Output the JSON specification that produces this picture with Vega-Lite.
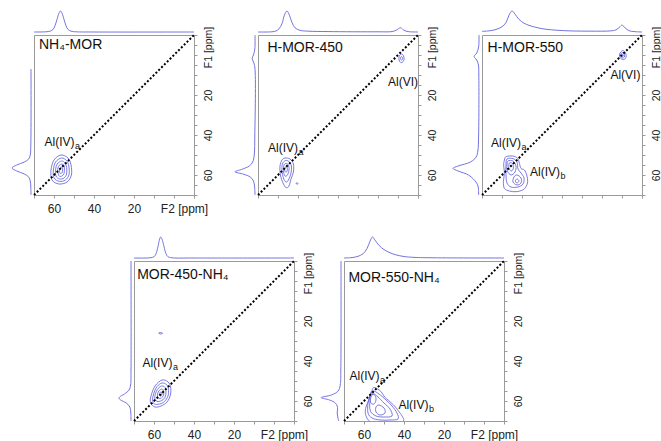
{
  "$schema": "https://vega.github.io/schema/vega-lite/v6.json",
  "padding": {"left": 9, "top": 8, "right": 0, "bottom": 4},
  "background": "white",
  "config": {
    "view": {"stroke": "#9a9a9a", "strokeWidth": 1},
    "axis": {"domainColor": "#9a9a9a", "tickColor": "#9a9a9a", "tickSize": 3, "labelFont": "Liberation Sans", "labelFontSize": 12, "labelColor": "#222222", "grid": false}
  },
  "datasets": {
    "dg": [{"f": -10}, {"f": 70}],
    "tt": [
      {"p": 1, "f2": 67.5, "f1": -5, "t": "NH₄-MOR"},
      {"p": 2, "f2": 65.3, "f1": -3.3, "t": "H-MOR-450"},
      {"p": 3, "f2": 67.2, "f1": -3.3, "t": "H-MOR-550"},
      {"p": 4, "f2": 68.4, "f1": -3, "t": "MOR-450-NH₄"},
      {"p": 5, "f2": 67.8, "f1": -1.5, "t": "MOR-550-NH₄"}
    ],
    "lb": [
      {"p": 1, "f2": 64.7, "f1": 43.3, "t": "Al(IV)", "s": "a"},
      {"p": 2, "f2": 65, "f1": 46.7, "t": "Al(IV)", "s": "a"},
      {"p": 2, "f2": 5, "f1": 13.3, "t": "Al(VI)", "s": ""},
      {"p": 3, "f2": 65.5, "f1": 44.2, "t": "Al(IV)", "s": "a"},
      {"p": 3, "f2": 46, "f1": 58.3, "t": "Al(IV)", "s": "b"},
      {"p": 3, "f2": 5.8, "f1": 10, "t": "Al(VI)", "s": ""},
      {"p": 4, "f2": 65.8, "f1": 41.2, "t": "Al(IV)", "s": "a"},
      {"p": 5, "f2": 67.2, "f1": 47.7, "t": "Al(IV)", "s": "a"},
      {"p": 5, "f2": 42.8, "f1": 61.8, "t": "Al(IV)", "s": "b"}
    ],
    "tp": [
      {"p":1,"f2":70,"v":0},{"p":1,"f2":64,"v":0.01},{"p":1,"f2":62,"v":0.04},{"p":1,"f2":60.5,"v":0.12},{"p":1,"f2":59.5,"v":0.3},{"p":1,"f2":58.5,"v":0.6},{"p":1,"f2":57.5,"v":0.9},{"p":1,"f2":56.8,"v":1},{"p":1,"f2":56,"v":0.9},{"p":1,"f2":55,"v":0.6},{"p":1,"f2":54,"v":0.3},{"p":1,"f2":53,"v":0.12},{"p":1,"f2":51.5,"v":0.04},{"p":1,"f2":49,"v":0.01},{"p":1,"f2":40,"v":0},{"p":1,"f2":-10,"v":0},
      {"p":2,"f2":70,"v":0},{"p":2,"f2":63,"v":0.01},{"p":2,"f2":61,"v":0.05},{"p":2,"f2":59.5,"v":0.15},{"p":2,"f2":58,"v":0.4},{"p":2,"f2":56.8,"v":0.8},{"p":2,"f2":55.5,"v":1},{"p":2,"f2":54.3,"v":0.8},{"p":2,"f2":53,"v":0.45},{"p":2,"f2":51.5,"v":0.2},{"p":2,"f2":49,"v":0.08},{"p":2,"f2":45,"v":0.04},{"p":2,"f2":35,"v":0.02},{"p":2,"f2":10,"v":0.01},{"p":2,"f2":3,"v":0.02},{"p":2,"f2":1,"v":0.08},{"p":2,"f2":-1.3,"v":0.2},{"p":2,"f2":-3,"v":0.08},{"p":2,"f2":-5,"v":0.02},{"p":2,"f2":-10,"v":0},
      {"p":3,"f2":70,"v":0.03},{"p":3,"f2":66,"v":0.06},{"p":3,"f2":63,"v":0.12},{"p":3,"f2":60,"v":0.25},{"p":3,"f2":58,"v":0.45},{"p":3,"f2":56.5,"v":0.8},{"p":3,"f2":55,"v":1},{"p":3,"f2":53.5,"v":0.85},{"p":3,"f2":51.5,"v":0.6},{"p":3,"f2":49,"v":0.42},{"p":3,"f2":46,"v":0.3},{"p":3,"f2":42,"v":0.2},{"p":3,"f2":38,"v":0.13},{"p":3,"f2":32,"v":0.08},{"p":3,"f2":25,"v":0.05},{"p":3,"f2":15,"v":0.04},{"p":3,"f2":6,"v":0.05},{"p":3,"f2":3,"v":0.1},{"p":3,"f2":1,"v":0.25},{"p":3,"f2":0,"v":0.33},{"p":3,"f2":-1.5,"v":0.2},{"p":3,"f2":-3.5,"v":0.06},{"p":3,"f2":-6,"v":0.02},{"p":3,"f2":-10,"v":0},
      {"p":4,"f2":70,"v":0},{"p":4,"f2":62,"v":0.01},{"p":4,"f2":60,"v":0.06},{"p":4,"f2":59,"v":0.2},{"p":4,"f2":58,"v":0.55},{"p":4,"f2":57.2,"v":0.9},{"p":4,"f2":56.7,"v":1},{"p":4,"f2":56,"v":0.9},{"p":4,"f2":55,"v":0.55},{"p":4,"f2":54,"v":0.2},{"p":4,"f2":53,"v":0.06},{"p":4,"f2":51,"v":0.01},{"p":4,"f2":40,"v":0},{"p":4,"f2":-10,"v":0},
      {"p":5,"f2":70,"v":0},{"p":5,"f2":66,"v":0.02},{"p":5,"f2":63,"v":0.08},{"p":5,"f2":60.5,"v":0.2},{"p":5,"f2":58.5,"v":0.45},{"p":5,"f2":57,"v":0.8},{"p":5,"f2":55.8,"v":1},{"p":5,"f2":54.5,"v":0.85},{"p":5,"f2":52.5,"v":0.6},{"p":5,"f2":50,"v":0.4},{"p":5,"f2":47,"v":0.25},{"p":5,"f2":44,"v":0.15},{"p":5,"f2":40,"v":0.07},{"p":5,"f2":35,"v":0.03},{"p":5,"f2":25,"v":0.01},{"p":5,"f2":-10,"v":0}
    ],
    "lp": [
      {"p":1,"f1":7,"v":0},{"p":1,"f1":45,"v":0.01},{"p":1,"f1":50,"v":0.04},{"p":1,"f1":52,"v":0.12},{"p":1,"f1":53.5,"v":0.35},{"p":1,"f1":55,"v":0.75},{"p":1,"f1":56.5,"v":1},{"p":1,"f1":58,"v":0.75},{"p":1,"f1":59.5,"v":0.35},{"p":1,"f1":61,"v":0.12},{"p":1,"f1":63,"v":0.04},{"p":1,"f1":66,"v":0.01},{"p":1,"f1":70,"v":0},
      {"p":2,"f1":-10,"v":0},{"p":2,"f1":-3,"v":0.01},{"p":2,"f1":0,"v":0.08},{"p":2,"f1":1.7,"v":0.15},{"p":2,"f1":3.5,"v":0.08},{"p":2,"f1":6,"v":0.01},{"p":2,"f1":40,"v":0.01},{"p":2,"f1":50,"v":0.04},{"p":2,"f1":53.5,"v":0.12},{"p":2,"f1":55.5,"v":0.3},{"p":2,"f1":57.2,"v":0.7},{"p":2,"f1":58.4,"v":1.05},{"p":2,"f1":59.6,"v":0.6},{"p":2,"f1":61,"v":0.25},{"p":2,"f1":63,"v":0.08},{"p":2,"f1":66,"v":0.02},{"p":2,"f1":70,"v":0},
      {"p":3,"f1":-10,"v":0},{"p":3,"f1":-4,"v":0.02},{"p":3,"f1":-1,"v":0.12},{"p":3,"f1":0.8,"v":0.26},{"p":3,"f1":2.5,"v":0.12},{"p":3,"f1":5,"v":0.03},{"p":3,"f1":10,"v":0.01},{"p":3,"f1":40,"v":0.02},{"p":3,"f1":48,"v":0.06},{"p":3,"f1":51,"v":0.15},{"p":3,"f1":53.5,"v":0.45},{"p":3,"f1":55.5,"v":1.1},{"p":3,"f1":56.7,"v":1.37},{"p":3,"f1":58,"v":1.1},{"p":3,"f1":60,"v":0.55},{"p":3,"f1":62,"v":0.3},{"p":3,"f1":64,"v":0.12},{"p":3,"f1":66,"v":0.04},{"p":3,"f1":70,"v":0.02},
      {"p":4,"f1":-10,"v":0},{"p":4,"f1":45,"v":0},{"p":4,"f1":52,"v":0.02},{"p":4,"f1":54.5,"v":0.1},{"p":4,"f1":56.5,"v":0.35},{"p":4,"f1":58,"v":0.6},{"p":4,"f1":58.7,"v":0.63},{"p":4,"f1":59.5,"v":0.55},{"p":4,"f1":61,"v":0.25},{"p":4,"f1":63,"v":0.06},{"p":4,"f1":66,"v":0.01},{"p":4,"f1":70,"v":0},
      {"p":5,"f1":-10,"v":0},{"p":5,"f1":45,"v":0.01},{"p":5,"f1":52,"v":0.04},{"p":5,"f1":55,"v":0.15},{"p":5,"f1":57,"v":0.5},{"p":5,"f1":58.3,"v":1.04},{"p":5,"f1":59.5,"v":0.6},{"p":5,"f1":61,"v":0.3},{"p":5,"f1":62.5,"v":0.2},{"p":5,"f1":64,"v":0.18},{"p":5,"f1":66,"v":0.2},{"p":5,"f1":68,"v":0.17},{"p":5,"f1":70,"v":0.12}
    ],
    "ct": [
      {"p":1,"r":"1a","i":0,"f2":56.5,"f1":50},{"p":1,"r":"1a","i":1,"f2":53,"f1":51.5},{"p":1,"r":"1a","i":2,"f2":51.5,"f1":55},{"p":1,"r":"1a","i":3,"f2":51.3,"f1":60},{"p":1,"r":"1a","i":4,"f2":53.5,"f1":63.5},{"p":1,"r":"1a","i":5,"f2":57.5,"f1":64.5},{"p":1,"r":"1a","i":6,"f2":61,"f1":62.5},{"p":1,"r":"1a","i":7,"f2":61.5,"f1":57.5},{"p":1,"r":"1a","i":8,"f2":60,"f1":52.5},
      {"p":1,"r":"1b","i":0,"f2":56.3,"f1":51.5},{"p":1,"r":"1b","i":1,"f2":53.8,"f1":52.7},{"p":1,"r":"1b","i":2,"f2":52.6,"f1":55.5},{"p":1,"r":"1b","i":3,"f2":52.5,"f1":59.8},{"p":1,"r":"1b","i":4,"f2":54.3,"f1":62.5},{"p":1,"r":"1b","i":5,"f2":57.3,"f1":63.2},{"p":1,"r":"1b","i":6,"f2":60,"f1":61.5},{"p":1,"r":"1b","i":7,"f2":60.3,"f1":57.5},{"p":1,"r":"1b","i":8,"f2":59.2,"f1":53.5},
      {"p":1,"r":"1c","i":0,"f2":56.2,"f1":53},{"p":1,"r":"1c","i":1,"f2":54.5,"f1":54},{"p":1,"r":"1c","i":2,"f2":53.7,"f1":56.2},{"p":1,"r":"1c","i":3,"f2":53.7,"f1":59.5},{"p":1,"r":"1c","i":4,"f2":55,"f1":61.5},{"p":1,"r":"1c","i":5,"f2":57.2,"f1":62},{"p":1,"r":"1c","i":6,"f2":59,"f1":60.5},{"p":1,"r":"1c","i":7,"f2":59.2,"f1":57.3},{"p":1,"r":"1c","i":8,"f2":58.4,"f1":54.5},
      {"p":1,"r":"1d","i":0,"f2":56,"f1":54.5},{"p":1,"r":"1d","i":1,"f2":55,"f1":55.3},{"p":1,"r":"1d","i":2,"f2":54.8,"f1":57},{"p":1,"r":"1d","i":3,"f2":55,"f1":59.3},{"p":1,"r":"1d","i":4,"f2":56,"f1":60.5},{"p":1,"r":"1d","i":5,"f2":57.3,"f1":60.6},{"p":1,"r":"1d","i":6,"f2":58,"f1":59},{"p":1,"r":"1d","i":7,"f2":58.1,"f1":56.8},{"p":1,"r":"1d","i":8,"f2":57.4,"f1":55.2},
      {"p":1,"r":"1e","i":0,"f2":56.2,"f1":56},{"p":1,"r":"1e","i":1,"f2":55.7,"f1":57.2},{"p":1,"r":"1e","i":2,"f2":56,"f1":58.8},{"p":1,"r":"1e","i":3,"f2":56.8,"f1":59.3},{"p":1,"r":"1e","i":4,"f2":57.3,"f1":58},{"p":1,"r":"1e","i":5,"f2":57,"f1":56.5},
      {"p":2,"r":"2a","i":0,"f2":56.5,"f1":51.5},{"p":2,"r":"2a","i":1,"f2":54,"f1":52},{"p":2,"r":"2a","i":2,"f2":52.3,"f1":54.5},{"p":2,"r":"2a","i":3,"f2":52.3,"f1":58.5},{"p":2,"r":"2a","i":4,"f2":53.5,"f1":62},{"p":2,"r":"2a","i":5,"f2":54.5,"f1":65.5},{"p":2,"r":"2a","i":6,"f2":56,"f1":66.3},{"p":2,"r":"2a","i":7,"f2":57.5,"f1":64},{"p":2,"r":"2a","i":8,"f2":58.8,"f1":60},{"p":2,"r":"2a","i":9,"f2":59,"f1":55.5},{"p":2,"r":"2a","i":10,"f2":58,"f1":52.5},
      {"p":2,"r":"2b","i":0,"f2":56.3,"f1":52.8},{"p":2,"r":"2b","i":1,"f2":54.5,"f1":53.3},{"p":2,"r":"2b","i":2,"f2":53.3,"f1":55.5},{"p":2,"r":"2b","i":3,"f2":53.5,"f1":59},{"p":2,"r":"2b","i":4,"f2":54.8,"f1":62.5},{"p":2,"r":"2b","i":5,"f2":56,"f1":63.5},{"p":2,"r":"2b","i":6,"f2":57.3,"f1":61.5},{"p":2,"r":"2b","i":7,"f2":58,"f1":58},{"p":2,"r":"2b","i":8,"f2":57.8,"f1":54.5},
      {"p":2,"r":"2c","i":0,"f2":56,"f1":54.2},{"p":2,"r":"2c","i":1,"f2":54.8,"f1":55},{"p":2,"r":"2c","i":2,"f2":54.5,"f1":57.5},{"p":2,"r":"2c","i":3,"f2":55.3,"f1":60},{"p":2,"r":"2c","i":4,"f2":56.5,"f1":60.5},{"p":2,"r":"2c","i":5,"f2":57.3,"f1":58},{"p":2,"r":"2c","i":6,"f2":57,"f1":55},
      {"p":2,"r":"2d","i":0,"f2":55.8,"f1":55.8},{"p":2,"r":"2d","i":1,"f2":55.3,"f1":57},{"p":2,"r":"2d","i":2,"f2":55.8,"f1":58.6},{"p":2,"r":"2d","i":3,"f2":56.6,"f1":58},{"p":2,"r":"2d","i":4,"f2":56.5,"f1":56.3},
      {"p":2,"r":"2e","i":0,"f2":50.6,"f1":63.8},{"p":2,"r":"2e","i":1,"f2":50,"f1":64.2},{"p":2,"r":"2e","i":2,"f2":50.4,"f1":64.7},{"p":2,"r":"2e","i":3,"f2":50.9,"f1":64.3},
      {"p":2,"r":"2f","i":0,"f2":-1.7,"f1":-0.5},{"p":2,"r":"2f","i":1,"f2":-2.8,"f1":0.5},{"p":2,"r":"2f","i":2,"f2":-3,"f1":2.5},{"p":2,"r":"2f","i":3,"f2":-1.8,"f1":3.8},{"p":2,"r":"2f","i":4,"f2":-0.7,"f1":3},{"p":2,"r":"2f","i":5,"f2":-0.5,"f1":0.8},
      {"p":2,"r":"2g","i":0,"f2":-1.8,"f1":0.8},{"p":2,"r":"2g","i":1,"f2":-2.3,"f1":1.6},{"p":2,"r":"2g","i":2,"f2":-1.9,"f1":2.6},{"p":2,"r":"2g","i":3,"f2":-1.3,"f1":2},{"p":2,"r":"2g","i":4,"f2":-1.3,"f1":1.2},
      {"p":3,"r":"3a","i":0,"f2":58,"f1":50.85},{"p":3,"r":"3a","i":1,"f2":54.65,"f1":50.5},{"p":3,"r":"3a","i":2,"f2":52.15,"f1":51.7},{"p":3,"r":"3a","i":3,"f2":51.3,"f1":54.2},{"p":3,"r":"3a","i":4,"f2":50.5,"f1":56.7},{"p":3,"r":"3a","i":5,"f2":48.8,"f1":57.5},{"p":3,"r":"3a","i":6,"f2":47.65,"f1":60},{"p":3,"r":"3a","i":7,"f2":47.15,"f1":63.35},{"p":3,"r":"3a","i":8,"f2":48,"f1":65.85},{"p":3,"r":"3a","i":9,"f2":49.65,"f1":67.5},{"p":3,"r":"3a","i":10,"f2":53,"f1":68.35},{"p":3,"r":"3a","i":11,"f2":56.3,"f1":68},{"p":3,"r":"3a","i":12,"f2":58.8,"f1":66.7},{"p":3,"r":"3a","i":13,"f2":59.3,"f1":63.35},{"p":3,"r":"3a","i":14,"f2":58.8,"f1":59.2},{"p":3,"r":"3a","i":15,"f2":59.15,"f1":55},{"p":3,"r":"3a","i":16,"f2":58.8,"f1":52.5},
      {"p":3,"r":"3b","i":0,"f2":57.5,"f1":52},{"p":3,"r":"3b","i":1,"f2":54.5,"f1":51.8},{"p":3,"r":"3b","i":2,"f2":52.5,"f1":53.5},{"p":3,"r":"3b","i":3,"f2":52,"f1":57},{"p":3,"r":"3b","i":4,"f2":50.5,"f1":59},{"p":3,"r":"3b","i":5,"f2":49,"f1":61.5},{"p":3,"r":"3b","i":6,"f2":49.5,"f1":64.5},{"p":3,"r":"3b","i":7,"f2":52,"f1":66},{"p":3,"r":"3b","i":8,"f2":55.5,"f1":66},{"p":3,"r":"3b","i":9,"f2":57.5,"f1":64},{"p":3,"r":"3b","i":10,"f2":58,"f1":60},{"p":3,"r":"3b","i":11,"f2":58,"f1":55},
      {"p":3,"r":"3c","i":0,"f2":57,"f1":53},{"p":3,"r":"3c","i":1,"f2":54.5,"f1":53},{"p":3,"r":"3c","i":2,"f2":53,"f1":55.5},{"p":3,"r":"3c","i":3,"f2":53.5,"f1":58.5},{"p":3,"r":"3c","i":4,"f2":55.5,"f1":60},{"p":3,"r":"3c","i":5,"f2":57.3,"f1":58},{"p":3,"r":"3c","i":6,"f2":57.5,"f1":55},
      {"p":3,"r":"3d","i":0,"f2":56.3,"f1":54},{"p":3,"r":"3d","i":1,"f2":54.8,"f1":54.2},{"p":3,"r":"3d","i":2,"f2":54.3,"f1":56.5},{"p":3,"r":"3d","i":3,"f2":55.3,"f1":58},{"p":3,"r":"3d","i":4,"f2":56.6,"f1":56.5},
      {"p":3,"r":"3e","i":0,"f2":52.5,"f1":60},{"p":3,"r":"3e","i":1,"f2":50.5,"f1":61.5},{"p":3,"r":"3e","i":2,"f2":50.5,"f1":64},{"p":3,"r":"3e","i":3,"f2":52.5,"f1":65},{"p":3,"r":"3e","i":4,"f2":54.5,"f1":63.5},{"p":3,"r":"3e","i":5,"f2":54,"f1":61},
      {"p":3,"r":"3f","i":0,"f2":52.5,"f1":62},{"p":3,"r":"3f","i":1,"f2":51.5,"f1":63},{"p":3,"r":"3f","i":2,"f2":52.5,"f1":64},{"p":3,"r":"3f","i":3,"f2":53.3,"f1":63},
      {"p":3,"r":"3g","i":0,"f2":-0.3,"f1":-2.2},{"p":3,"r":"3g","i":1,"f2":-1.8,"f1":-1},{"p":3,"r":"3g","i":2,"f2":-2,"f1":1.2},{"p":3,"r":"3g","i":3,"f2":-0.8,"f1":2.3},{"p":3,"r":"3g","i":4,"f2":0.8,"f1":1.5},{"p":3,"r":"3g","i":5,"f2":1.2,"f1":-0.5},
      {"p":3,"r":"3h","i":0,"f2":-0.4,"f1":-1.2},{"p":3,"r":"3h","i":1,"f2":-1.2,"f1":-0.3},{"p":3,"r":"3h","i":2,"f2":-1.2,"f1":1},{"p":3,"r":"3h","i":3,"f2":-0.3,"f1":1.5},{"p":3,"r":"3h","i":4,"f2":0.5,"f1":0.8},{"p":3,"r":"3h","i":5,"f2":0.6,"f1":-0.4},
      {"p":3,"r":"3i","i":0,"f2":-0.4,"f1":-0.3},{"p":3,"r":"3i","i":1,"f2":-0.7,"f1":0.3},{"p":3,"r":"3i","i":2,"f2":-0.3,"f1":0.8},{"p":3,"r":"3i","i":3,"f2":0.1,"f1":0.3},
      {"p":4,"r":"4a","i":0,"f2":56,"f1":49.5},{"p":4,"r":"4a","i":1,"f2":53,"f1":50.5},{"p":4,"r":"4a","i":2,"f2":51.7,"f1":53},{"p":4,"r":"4a","i":3,"f2":51.8,"f1":57},{"p":4,"r":"4a","i":4,"f2":53.5,"f1":60.5},{"p":4,"r":"4a","i":5,"f2":56.5,"f1":62.5},{"p":4,"r":"4a","i":6,"f2":59.5,"f1":63},{"p":4,"r":"4a","i":7,"f2":61.7,"f1":61},{"p":4,"r":"4a","i":8,"f2":61.5,"f1":57.5},{"p":4,"r":"4a","i":9,"f2":59.5,"f1":52.5},
      {"p":4,"r":"4b","i":0,"f2":56,"f1":51},{"p":4,"r":"4b","i":1,"f2":53.7,"f1":51.8},{"p":4,"r":"4b","i":2,"f2":52.8,"f1":54},{"p":4,"r":"4b","i":3,"f2":53,"f1":57.5},{"p":4,"r":"4b","i":4,"f2":54.8,"f1":60.3},{"p":4,"r":"4b","i":5,"f2":57.2,"f1":61.5},{"p":4,"r":"4b","i":6,"f2":59.8,"f1":61.5},{"p":4,"r":"4b","i":7,"f2":60.7,"f1":59.5},{"p":4,"r":"4b","i":8,"f2":60.2,"f1":56.5},{"p":4,"r":"4b","i":9,"f2":58.5,"f1":52.8},
      {"p":4,"r":"4c","i":0,"f2":56,"f1":52.5},{"p":4,"r":"4c","i":1,"f2":54.5,"f1":53.2},{"p":4,"r":"4c","i":2,"f2":54,"f1":55.5},{"p":4,"r":"4c","i":3,"f2":54.5,"f1":58.2},{"p":4,"r":"4c","i":4,"f2":56.2,"f1":59.8},{"p":4,"r":"4c","i":5,"f2":58.5,"f1":60.2},{"p":4,"r":"4c","i":6,"f2":59.6,"f1":58.5},{"p":4,"r":"4c","i":7,"f2":59,"f1":55.5},{"p":4,"r":"4c","i":8,"f2":57.5,"f1":53.3},
      {"p":4,"r":"4d","i":0,"f2":56,"f1":54},{"p":4,"r":"4d","i":1,"f2":55.2,"f1":55},{"p":4,"r":"4d","i":2,"f2":55.2,"f1":57},{"p":4,"r":"4d","i":3,"f2":56.3,"f1":58.5},{"p":4,"r":"4d","i":4,"f2":57.8,"f1":58.6},{"p":4,"r":"4d","i":5,"f2":58.3,"f1":57},{"p":4,"r":"4d","i":6,"f2":57.6,"f1":55},
      {"p":4,"r":"4e","i":0,"f2":56.4,"f1":55.5},{"p":4,"r":"4e","i":1,"f2":56,"f1":56.5},{"p":4,"r":"4e","i":2,"f2":56.6,"f1":57.5},{"p":4,"r":"4e","i":3,"f2":57.3,"f1":57},{"p":4,"r":"4e","i":4,"f2":57,"f1":55.8},
      {"p":4,"r":"4f","i":0,"f2":57.7,"f1":26},{"p":4,"r":"4f","i":1,"f2":56.7,"f1":25.8},{"p":4,"r":"4f","i":2,"f2":55.7,"f1":26.1},{"p":4,"r":"4f","i":3,"f2":56.7,"f1":26.5},
      {"p":5,"r":"5a","i":0,"f2":55.2,"f1":53.3},{"p":5,"r":"5a","i":1,"f2":53.5,"f1":53.8},{"p":5,"r":"5a","i":2,"f2":51.3,"f1":55.5},{"p":5,"r":"5a","i":3,"f2":49.7,"f1":58},{"p":5,"r":"5a","i":4,"f2":47.7,"f1":59.7},{"p":5,"r":"5a","i":5,"f2":46,"f1":61.3},{"p":5,"r":"5a","i":6,"f2":44.3,"f1":63},{"p":5,"r":"5a","i":7,"f2":41.8,"f1":66.3},{"p":5,"r":"5a","i":8,"f2":40.7,"f1":68},{"p":5,"r":"5a","i":9,"f2":40.2,"f1":69.7},{"p":5,"r":"5a","i":10,"f2":42.7,"f1":71},{"p":5,"r":"5a","i":11,"f2":49.3,"f1":70.5},{"p":5,"r":"5a","i":12,"f2":54.3,"f1":71.3},{"p":5,"r":"5a","i":13,"f2":57.7,"f1":69.7},{"p":5,"r":"5a","i":14,"f2":59.3,"f1":66.3},{"p":5,"r":"5a","i":15,"f2":59,"f1":63},{"p":5,"r":"5a","i":16,"f2":57.7,"f1":59.7},{"p":5,"r":"5a","i":17,"f2":56.8,"f1":56.3},{"p":5,"r":"5a","i":18,"f2":56,"f1":54.7},
      {"p":5,"r":"5b","i":0,"f2":55.5,"f1":55},{"p":5,"r":"5b","i":1,"f2":52.5,"f1":56.5},{"p":5,"r":"5b","i":2,"f2":49,"f1":59.5},{"p":5,"r":"5b","i":3,"f2":46,"f1":62.5},{"p":5,"r":"5b","i":4,"f2":43.5,"f1":66},{"p":5,"r":"5b","i":5,"f2":43,"f1":69},{"p":5,"r":"5b","i":6,"f2":47,"f1":69.5},{"p":5,"r":"5b","i":7,"f2":52,"f1":69.5},{"p":5,"r":"5b","i":8,"f2":56,"f1":68.5},{"p":5,"r":"5b","i":9,"f2":58,"f1":66},{"p":5,"r":"5b","i":10,"f2":58,"f1":61},{"p":5,"r":"5b","i":11,"f2":57,"f1":57.5},
      {"p":5,"r":"5c","i":0,"f2":55.5,"f1":56.5},{"p":5,"r":"5c","i":1,"f2":53,"f1":58},{"p":5,"r":"5c","i":2,"f2":50,"f1":61},{"p":5,"r":"5c","i":3,"f2":47,"f1":64},{"p":5,"r":"5c","i":4,"f2":46,"f1":67.5},{"p":5,"r":"5c","i":5,"f2":50,"f1":68},{"p":5,"r":"5c","i":6,"f2":54,"f1":67.5},{"p":5,"r":"5c","i":7,"f2":56.8,"f1":65},{"p":5,"r":"5c","i":8,"f2":57,"f1":60},
      {"p":5,"r":"5d","i":0,"f2":56.3,"f1":56.5},{"p":5,"r":"5d","i":1,"f2":54.5,"f1":57.2},{"p":5,"r":"5d","i":2,"f2":54,"f1":59.5},{"p":5,"r":"5d","i":3,"f2":55,"f1":61.5},{"p":5,"r":"5d","i":4,"f2":56.5,"f1":61},{"p":5,"r":"5d","i":5,"f2":57,"f1":58.5},
      {"p":5,"r":"5e","i":0,"f2":52.5,"f1":62},{"p":5,"r":"5e","i":1,"f2":50,"f1":63.5},{"p":5,"r":"5e","i":2,"f2":49.5,"f1":66},{"p":5,"r":"5e","i":3,"f2":52,"f1":67},{"p":5,"r":"5e","i":4,"f2":54,"f1":65.5},{"p":5,"r":"5e","i":5,"f2":54,"f1":63}
    ]
  },
  "spacing": 19,
  "vconcat": [
    {
      "bounds": "flush",
      "spacing": 64,
      "hconcat": [
        {
          "width": 160, "height": 160,
          "layer": [
            {"data": {"name": "ct"}, "transform": [{"filter": "datum.p==1"}],
             "mark": {"type": "line", "interpolate": "cardinal-closed", "strokeWidth": 0.8, "color": "#5a5ad6", "clip": true},
             "encoding": {
               "x": {"field": "f2", "type": "quantitative", "scale": {"domain": [-10, 70], "reverse": true, "nice": false, "zero": false},
                     "axis": {"orient": "bottom", "title": null, "values": [-10, 0, 10, 20, 30, 40, 50, 60, 70], "labelExpr": "datum.value==0 ? 'F2 [ppm]' : (datum.value==20||datum.value==40||datum.value==60 ? datum.label : '')", "labelOverlap": false, "labelFlush": false, "labelPadding": 5, "labelOffset": {"condition": {"test": "datum.value==0", "value": 10}, "value": 0}}},
               "y": {"field": "f1", "type": "quantitative", "scale": {"domain": [-10, 70], "reverse": true, "nice": false, "zero": false},
                     "axis": {"orient": "right", "title": null, "values": [-10, -5, 0, 5, 10, 15, 20, 25, 30, 35, 40, 45, 50, 55, 60, 65, 70], "labelExpr": "datum.value==0 ? 'F1 [ppm]' : (datum.value==20||datum.value==40||datum.value==60 ? datum.label : '')", "labelAngle": 270, "labelAlign": "center", "labelBaseline": "top", "labelFontSize": 10.5, "labelOverlap": false, "labelFlush": false, "labelPadding": 6, "labelOffset": {"condition": {"test": "datum.value==0", "value": -8}, "value": 0}}},
               "detail": {"field": "r"},
               "order": {"field": "i", "type": "quantitative"}}},
            {"data": {"name": "dg"}, "mark": {"type": "line", "strokeDash": [2, 2], "strokeWidth": 2, "color": "#000000"},
             "encoding": {"x": {"field": "f", "type": "quantitative", "scale": {"domain": [-10, 70], "reverse": true, "nice": false, "zero": false}, "axis": null},
                          "y": {"field": "f", "type": "quantitative", "scale": {"domain": [-10, 70], "reverse": true, "nice": false, "zero": false}, "axis": null}}},
            {"data": {"name": "tp"}, "transform": [{"filter": "datum.p==1"}],
             "mark": {"type": "line", "interpolate": "catmull-rom", "strokeWidth": 1, "color": "#7474e0"},
             "encoding": {"x": {"field": "f2", "type": "quantitative", "scale": {"domain": [-10, 70], "reverse": true, "nice": false, "zero": false}, "axis": null},
                          "y": {"field": "v", "type": "quantitative", "scale": {"domain": [-7.762, -0.143], "nice": false, "zero": false}, "axis": null},
                          "order": {"field": "f2", "type": "quantitative", "sort": "descending"}}},
            {"data": {"name": "lp"}, "transform": [{"filter": "datum.p==1"}],
             "mark": {"type": "line", "interpolate": "catmull-rom", "strokeWidth": 1, "color": "#7474e0"},
             "encoding": {"y": {"field": "f1", "type": "quantitative", "scale": {"domain": [-10, 70], "reverse": true, "nice": false, "zero": false}, "axis": null},
                          "x": {"field": "v", "type": "quantitative", "scale": {"domain": [-8.579, -0.158], "reverse": true, "nice": false, "zero": false}, "axis": null},
                          "order": {"field": "f1", "type": "quantitative"}}},
            {"data": {"name": "tt"}, "transform": [{"filter": "datum.p==1"}],
             "mark": {"type": "text", "align": "left", "baseline": "middle", "font": "Liberation Sans", "fontSize": 14, "color": "#111111"},
             "encoding": {"x": {"field": "f2", "type": "quantitative", "scale": {"domain": [-10, 70], "reverse": true, "nice": false, "zero": false}, "axis": null},
                          "y": {"field": "f1", "type": "quantitative", "scale": {"domain": [-10, 70], "reverse": true, "nice": false, "zero": false}, "axis": null},
                          "text": {"field": "t"}}},
            {"data": {"name": "lb"}, "transform": [{"filter": "datum.p==1"}],
             "mark": {"type": "text", "align": "left", "baseline": "middle", "font": "Liberation Sans", "fontSize": 12, "color": "#111111"},
             "encoding": {"x": {"field": "f2", "type": "quantitative", "scale": {"domain": [-10, 70], "reverse": true, "nice": false, "zero": false}, "axis": null},
                          "y": {"field": "f1", "type": "quantitative", "scale": {"domain": [-10, 70], "reverse": true, "nice": false, "zero": false}, "axis": null},
                          "text": {"field": "t"}}},
            {"data": {"name": "lb"}, "transform": [{"filter": "datum.p==1"}],
             "mark": {"type": "text", "align": "left", "baseline": "middle", "font": "Liberation Sans", "fontSize": 9, "dx": 30.5, "dy": 4, "color": "#111111"},
             "encoding": {"x": {"field": "f2", "type": "quantitative", "scale": {"domain": [-10, 70], "reverse": true, "nice": false, "zero": false}, "axis": null},
                          "y": {"field": "f1", "type": "quantitative", "scale": {"domain": [-10, 70], "reverse": true, "nice": false, "zero": false}, "axis": null},
                          "text": {"field": "s"}}}
          ],
          "resolve": {"scale": {"x": "independent", "y": "independent"}}
        },
        {
          "width": 160, "height": 160,
          "layer": [
            {"data": {"name": "ct"}, "transform": [{"filter": "datum.p==2"}],
             "mark": {"type": "line", "interpolate": "cardinal-closed", "strokeWidth": 0.8, "color": "#5a5ad6", "clip": true},
             "encoding": {
               "x": {"field": "f2", "type": "quantitative", "scale": {"domain": [-10, 70], "reverse": true, "nice": false, "zero": false},
                     "axis": {"orient": "bottom", "title": null, "values": [-10, 0, 10, 20, 30, 40, 50, 60, 70], "labels": false}},
               "y": {"field": "f1", "type": "quantitative", "scale": {"domain": [-10, 70], "reverse": true, "nice": false, "zero": false},
                     "axis": {"orient": "right", "title": null, "values": [-10, -5, 0, 5, 10, 15, 20, 25, 30, 35, 40, 45, 50, 55, 60, 65, 70], "labelExpr": "datum.value==0 ? 'F1 [ppm]' : (datum.value==20||datum.value==40||datum.value==60 ? datum.label : '')", "labelAngle": 270, "labelAlign": "center", "labelBaseline": "top", "labelFontSize": 10.5, "labelOverlap": false, "labelFlush": false, "labelPadding": 6, "labelOffset": {"condition": {"test": "datum.value==0", "value": -8}, "value": 0}}},
               "detail": {"field": "r"},
               "order": {"field": "i", "type": "quantitative"}}},
            {"data": {"name": "dg"}, "mark": {"type": "line", "strokeDash": [2, 2], "strokeWidth": 2, "color": "#000000"},
             "encoding": {"x": {"field": "f", "type": "quantitative", "scale": {"domain": [-10, 70], "reverse": true, "nice": false, "zero": false}, "axis": null},
                          "y": {"field": "f", "type": "quantitative", "scale": {"domain": [-10, 70], "reverse": true, "nice": false, "zero": false}, "axis": null}}},
            {"data": {"name": "tp"}, "transform": [{"filter": "datum.p==2"}],
             "mark": {"type": "line", "interpolate": "catmull-rom", "strokeWidth": 1, "color": "#7474e0"},
             "encoding": {"x": {"field": "f2", "type": "quantitative", "scale": {"domain": [-10, 70], "reverse": true, "nice": false, "zero": false}, "axis": null},
                          "y": {"field": "v", "type": "quantitative", "scale": {"domain": [-7.762, -0.143], "nice": false, "zero": false}, "axis": null},
                          "order": {"field": "f2", "type": "quantitative", "sort": "descending"}}},
            {"data": {"name": "lp"}, "transform": [{"filter": "datum.p==2"}],
             "mark": {"type": "line", "interpolate": "catmull-rom", "strokeWidth": 1, "color": "#7474e0"},
             "encoding": {"y": {"field": "f1", "type": "quantitative", "scale": {"domain": [-10, 70], "reverse": true, "nice": false, "zero": false}, "axis": null},
                          "x": {"field": "v", "type": "quantitative", "scale": {"domain": [-8.579, -0.158], "reverse": true, "nice": false, "zero": false}, "axis": null},
                          "order": {"field": "f1", "type": "quantitative"}}},
            {"data": {"name": "tt"}, "transform": [{"filter": "datum.p==2"}],
             "mark": {"type": "text", "align": "left", "baseline": "middle", "font": "Liberation Sans", "fontSize": 14, "color": "#111111"},
             "encoding": {"x": {"field": "f2", "type": "quantitative", "scale": {"domain": [-10, 70], "reverse": true, "nice": false, "zero": false}, "axis": null},
                          "y": {"field": "f1", "type": "quantitative", "scale": {"domain": [-10, 70], "reverse": true, "nice": false, "zero": false}, "axis": null},
                          "text": {"field": "t"}}},
            {"data": {"name": "lb"}, "transform": [{"filter": "datum.p==2"}],
             "mark": {"type": "text", "align": "left", "baseline": "middle", "font": "Liberation Sans", "fontSize": 12, "color": "#111111"},
             "encoding": {"x": {"field": "f2", "type": "quantitative", "scale": {"domain": [-10, 70], "reverse": true, "nice": false, "zero": false}, "axis": null},
                          "y": {"field": "f1", "type": "quantitative", "scale": {"domain": [-10, 70], "reverse": true, "nice": false, "zero": false}, "axis": null},
                          "text": {"field": "t"}}},
            {"data": {"name": "lb"}, "transform": [{"filter": "datum.p==2"}],
             "mark": {"type": "text", "align": "left", "baseline": "middle", "font": "Liberation Sans", "fontSize": 9, "dx": 30.5, "dy": 4, "color": "#111111"},
             "encoding": {"x": {"field": "f2", "type": "quantitative", "scale": {"domain": [-10, 70], "reverse": true, "nice": false, "zero": false}, "axis": null},
                          "y": {"field": "f1", "type": "quantitative", "scale": {"domain": [-10, 70], "reverse": true, "nice": false, "zero": false}, "axis": null},
                          "text": {"field": "s"}}}
          ],
          "resolve": {"scale": {"x": "independent", "y": "independent"}}
        },
        {
          "width": 160, "height": 160,
          "layer": [
            {"data": {"name": "ct"}, "transform": [{"filter": "datum.p==3"}],
             "mark": {"type": "line", "interpolate": "cardinal-closed", "strokeWidth": 0.8, "color": "#5a5ad6", "clip": true},
             "encoding": {
               "x": {"field": "f2", "type": "quantitative", "scale": {"domain": [-10, 70], "reverse": true, "nice": false, "zero": false},
                     "axis": {"orient": "bottom", "title": null, "values": [-10, 0, 10, 20, 30, 40, 50, 60, 70], "labels": false}},
               "y": {"field": "f1", "type": "quantitative", "scale": {"domain": [-10, 70], "reverse": true, "nice": false, "zero": false},
                     "axis": {"orient": "right", "title": null, "values": [-10, -5, 0, 5, 10, 15, 20, 25, 30, 35, 40, 45, 50, 55, 60, 65, 70], "labelExpr": "datum.value==0 ? 'F1 [ppm]' : (datum.value==20||datum.value==40||datum.value==60 ? datum.label : '')", "labelAngle": 270, "labelAlign": "center", "labelBaseline": "top", "labelFontSize": 10.5, "labelOverlap": false, "labelFlush": false, "labelPadding": 6, "labelOffset": {"condition": {"test": "datum.value==0", "value": -8}, "value": 0}}},
               "detail": {"field": "r"},
               "order": {"field": "i", "type": "quantitative"}}},
            {"data": {"name": "dg"}, "mark": {"type": "line", "strokeDash": [2, 2], "strokeWidth": 2, "color": "#000000"},
             "encoding": {"x": {"field": "f", "type": "quantitative", "scale": {"domain": [-10, 70], "reverse": true, "nice": false, "zero": false}, "axis": null},
                          "y": {"field": "f", "type": "quantitative", "scale": {"domain": [-10, 70], "reverse": true, "nice": false, "zero": false}, "axis": null}}},
            {"data": {"name": "tp"}, "transform": [{"filter": "datum.p==3"}],
             "mark": {"type": "line", "interpolate": "catmull-rom", "strokeWidth": 1, "color": "#7474e0"},
             "encoding": {"x": {"field": "f2", "type": "quantitative", "scale": {"domain": [-10, 70], "reverse": true, "nice": false, "zero": false}, "axis": null},
                          "y": {"field": "v", "type": "quantitative", "scale": {"domain": [-7.762, -0.143], "nice": false, "zero": false}, "axis": null},
                          "order": {"field": "f2", "type": "quantitative", "sort": "descending"}}},
            {"data": {"name": "lp"}, "transform": [{"filter": "datum.p==3"}],
             "mark": {"type": "line", "interpolate": "catmull-rom", "strokeWidth": 1, "color": "#7474e0"},
             "encoding": {"y": {"field": "f1", "type": "quantitative", "scale": {"domain": [-10, 70], "reverse": true, "nice": false, "zero": false}, "axis": null},
                          "x": {"field": "v", "type": "quantitative", "scale": {"domain": [-8.579, -0.158], "reverse": true, "nice": false, "zero": false}, "axis": null},
                          "order": {"field": "f1", "type": "quantitative"}}},
            {"data": {"name": "tt"}, "transform": [{"filter": "datum.p==3"}],
             "mark": {"type": "text", "align": "left", "baseline": "middle", "font": "Liberation Sans", "fontSize": 14, "color": "#111111"},
             "encoding": {"x": {"field": "f2", "type": "quantitative", "scale": {"domain": [-10, 70], "reverse": true, "nice": false, "zero": false}, "axis": null},
                          "y": {"field": "f1", "type": "quantitative", "scale": {"domain": [-10, 70], "reverse": true, "nice": false, "zero": false}, "axis": null},
                          "text": {"field": "t"}}},
            {"data": {"name": "lb"}, "transform": [{"filter": "datum.p==3"}],
             "mark": {"type": "text", "align": "left", "baseline": "middle", "font": "Liberation Sans", "fontSize": 12, "color": "#111111"},
             "encoding": {"x": {"field": "f2", "type": "quantitative", "scale": {"domain": [-10, 70], "reverse": true, "nice": false, "zero": false}, "axis": null},
                          "y": {"field": "f1", "type": "quantitative", "scale": {"domain": [-10, 70], "reverse": true, "nice": false, "zero": false}, "axis": null},
                          "text": {"field": "t"}}},
            {"data": {"name": "lb"}, "transform": [{"filter": "datum.p==3"}],
             "mark": {"type": "text", "align": "left", "baseline": "middle", "font": "Liberation Sans", "fontSize": 9, "dx": 30.5, "dy": 4, "color": "#111111"},
             "encoding": {"x": {"field": "f2", "type": "quantitative", "scale": {"domain": [-10, 70], "reverse": true, "nice": false, "zero": false}, "axis": null},
                          "y": {"field": "f1", "type": "quantitative", "scale": {"domain": [-10, 70], "reverse": true, "nice": false, "zero": false}, "axis": null},
                          "text": {"field": "s"}}}
          ],
          "resolve": {"scale": {"x": "independent", "y": "independent"}}
        }
      ]
    },
    {
      "bounds": "flush",
      "spacing": 50,
      "hconcat": [
        {"width": 50, "height": 160, "data": {"values": [{"a": 1}]}, "mark": {"type": "point", "opacity": 0}, "view": {"stroke": null}},
        {
          "width": 160, "height": 160,
          "layer": [
            {"data": {"name": "ct"}, "transform": [{"filter": "datum.p==4"}],
             "mark": {"type": "line", "interpolate": "cardinal-closed", "strokeWidth": 0.8, "color": "#5a5ad6", "clip": true},
             "encoding": {
               "x": {"field": "f2", "type": "quantitative", "scale": {"domain": [-10, 70], "reverse": true, "nice": false, "zero": false},
                     "axis": {"orient": "bottom", "title": null, "values": [-10, 0, 10, 20, 30, 40, 50, 60, 70], "labelExpr": "datum.value==0 ? 'F2 [ppm]' : (datum.value==20||datum.value==40||datum.value==60 ? datum.label : '')", "labelOverlap": false, "labelFlush": false, "labelPadding": 5, "labelOffset": {"condition": {"test": "datum.value==0", "value": 10}, "value": 0}}},
               "y": {"field": "f1", "type": "quantitative", "scale": {"domain": [-10, 70], "reverse": true, "nice": false, "zero": false},
                     "axis": {"orient": "right", "title": null, "values": [-10, -5, 0, 5, 10, 15, 20, 25, 30, 35, 40, 45, 50, 55, 60, 65, 70], "labelExpr": "datum.value==0 ? 'F1 [ppm]' : (datum.value==20||datum.value==40||datum.value==60 ? datum.label : '')", "labelAngle": 270, "labelAlign": "center", "labelBaseline": "top", "labelFontSize": 10.5, "labelOverlap": false, "labelFlush": false, "labelPadding": 6, "labelOffset": {"condition": {"test": "datum.value==0", "value": -8}, "value": 0}}},
               "detail": {"field": "r"},
               "order": {"field": "i", "type": "quantitative"}}},
            {"data": {"name": "dg"}, "mark": {"type": "line", "strokeDash": [2, 2], "strokeWidth": 2, "color": "#000000"},
             "encoding": {"x": {"field": "f", "type": "quantitative", "scale": {"domain": [-10, 70], "reverse": true, "nice": false, "zero": false}, "axis": null},
                          "y": {"field": "f", "type": "quantitative", "scale": {"domain": [-10, 70], "reverse": true, "nice": false, "zero": false}, "axis": null}}},
            {"data": {"name": "tp"}, "transform": [{"filter": "datum.p==4"}],
             "mark": {"type": "line", "interpolate": "catmull-rom", "strokeWidth": 1, "color": "#7474e0"},
             "encoding": {"x": {"field": "f2", "type": "quantitative", "scale": {"domain": [-10, 70], "reverse": true, "nice": false, "zero": false}, "axis": null},
                          "y": {"field": "v", "type": "quantitative", "scale": {"domain": [-7.762, -0.143], "nice": false, "zero": false}, "axis": null},
                          "order": {"field": "f2", "type": "quantitative", "sort": "descending"}}},
            {"data": {"name": "lp"}, "transform": [{"filter": "datum.p==4"}],
             "mark": {"type": "line", "interpolate": "catmull-rom", "strokeWidth": 1, "color": "#7474e0"},
             "encoding": {"y": {"field": "f1", "type": "quantitative", "scale": {"domain": [-10, 70], "reverse": true, "nice": false, "zero": false}, "axis": null},
                          "x": {"field": "v", "type": "quantitative", "scale": {"domain": [-8.579, -0.158], "reverse": true, "nice": false, "zero": false}, "axis": null},
                          "order": {"field": "f1", "type": "quantitative"}}},
            {"data": {"name": "tt"}, "transform": [{"filter": "datum.p==4"}],
             "mark": {"type": "text", "align": "left", "baseline": "middle", "font": "Liberation Sans", "fontSize": 14, "color": "#111111"},
             "encoding": {"x": {"field": "f2", "type": "quantitative", "scale": {"domain": [-10, 70], "reverse": true, "nice": false, "zero": false}, "axis": null},
                          "y": {"field": "f1", "type": "quantitative", "scale": {"domain": [-10, 70], "reverse": true, "nice": false, "zero": false}, "axis": null},
                          "text": {"field": "t"}}},
            {"data": {"name": "lb"}, "transform": [{"filter": "datum.p==4"}],
             "mark": {"type": "text", "align": "left", "baseline": "middle", "font": "Liberation Sans", "fontSize": 12, "color": "#111111"},
             "encoding": {"x": {"field": "f2", "type": "quantitative", "scale": {"domain": [-10, 70], "reverse": true, "nice": false, "zero": false}, "axis": null},
                          "y": {"field": "f1", "type": "quantitative", "scale": {"domain": [-10, 70], "reverse": true, "nice": false, "zero": false}, "axis": null},
                          "text": {"field": "t"}}},
            {"data": {"name": "lb"}, "transform": [{"filter": "datum.p==4"}],
             "mark": {"type": "text", "align": "left", "baseline": "middle", "font": "Liberation Sans", "fontSize": 9, "dx": 30.5, "dy": 4, "color": "#111111"},
             "encoding": {"x": {"field": "f2", "type": "quantitative", "scale": {"domain": [-10, 70], "reverse": true, "nice": false, "zero": false}, "axis": null},
                          "y": {"field": "f1", "type": "quantitative", "scale": {"domain": [-10, 70], "reverse": true, "nice": false, "zero": false}, "axis": null},
                          "text": {"field": "s"}}}
          ],
          "resolve": {"scale": {"x": "independent", "y": "independent"}}
        },
        {
          "width": 160, "height": 160,
          "layer": [
            {"data": {"name": "ct"}, "transform": [{"filter": "datum.p==5"}],
             "mark": {"type": "line", "interpolate": "cardinal-closed", "strokeWidth": 0.8, "color": "#5a5ad6", "clip": true},
             "encoding": {
               "x": {"field": "f2", "type": "quantitative", "scale": {"domain": [-10, 70], "reverse": true, "nice": false, "zero": false},
                     "axis": {"orient": "bottom", "title": null, "values": [-10, 0, 10, 20, 30, 40, 50, 60, 70], "labelExpr": "datum.value==0 ? 'F2 [ppm]' : (datum.value==20||datum.value==40||datum.value==60 ? datum.label : '')", "labelOverlap": false, "labelFlush": false, "labelPadding": 5, "labelOffset": {"condition": {"test": "datum.value==0", "value": 10}, "value": 0}}},
               "y": {"field": "f1", "type": "quantitative", "scale": {"domain": [-10, 70], "reverse": true, "nice": false, "zero": false},
                     "axis": {"orient": "right", "title": null, "values": [-10, -5, 0, 5, 10, 15, 20, 25, 30, 35, 40, 45, 50, 55, 60, 65, 70], "labelExpr": "datum.value==0 ? 'F1 [ppm]' : (datum.value==20||datum.value==40||datum.value==60 ? datum.label : '')", "labelAngle": 270, "labelAlign": "center", "labelBaseline": "top", "labelFontSize": 10.5, "labelOverlap": false, "labelFlush": false, "labelPadding": 6, "labelOffset": {"condition": {"test": "datum.value==0", "value": -8}, "value": 0}}},
               "detail": {"field": "r"},
               "order": {"field": "i", "type": "quantitative"}}},
            {"data": {"name": "dg"}, "mark": {"type": "line", "strokeDash": [2, 2], "strokeWidth": 2, "color": "#000000"},
             "encoding": {"x": {"field": "f", "type": "quantitative", "scale": {"domain": [-10, 70], "reverse": true, "nice": false, "zero": false}, "axis": null},
                          "y": {"field": "f", "type": "quantitative", "scale": {"domain": [-10, 70], "reverse": true, "nice": false, "zero": false}, "axis": null}}},
            {"data": {"name": "tp"}, "transform": [{"filter": "datum.p==5"}],
             "mark": {"type": "line", "interpolate": "catmull-rom", "strokeWidth": 1, "color": "#7474e0"},
             "encoding": {"x": {"field": "f2", "type": "quantitative", "scale": {"domain": [-10, 70], "reverse": true, "nice": false, "zero": false}, "axis": null},
                          "y": {"field": "v", "type": "quantitative", "scale": {"domain": [-7.762, -0.143], "nice": false, "zero": false}, "axis": null},
                          "order": {"field": "f2", "type": "quantitative", "sort": "descending"}}},
            {"data": {"name": "lp"}, "transform": [{"filter": "datum.p==5"}],
             "mark": {"type": "line", "interpolate": "catmull-rom", "strokeWidth": 1, "color": "#7474e0"},
             "encoding": {"y": {"field": "f1", "type": "quantitative", "scale": {"domain": [-10, 70], "reverse": true, "nice": false, "zero": false}, "axis": null},
                          "x": {"field": "v", "type": "quantitative", "scale": {"domain": [-8.579, -0.158], "reverse": true, "nice": false, "zero": false}, "axis": null},
                          "order": {"field": "f1", "type": "quantitative"}}},
            {"data": {"name": "tt"}, "transform": [{"filter": "datum.p==5"}],
             "mark": {"type": "text", "align": "left", "baseline": "middle", "font": "Liberation Sans", "fontSize": 14, "color": "#111111"},
             "encoding": {"x": {"field": "f2", "type": "quantitative", "scale": {"domain": [-10, 70], "reverse": true, "nice": false, "zero": false}, "axis": null},
                          "y": {"field": "f1", "type": "quantitative", "scale": {"domain": [-10, 70], "reverse": true, "nice": false, "zero": false}, "axis": null},
                          "text": {"field": "t"}}},
            {"data": {"name": "lb"}, "transform": [{"filter": "datum.p==5"}],
             "mark": {"type": "text", "align": "left", "baseline": "middle", "font": "Liberation Sans", "fontSize": 12, "color": "#111111"},
             "encoding": {"x": {"field": "f2", "type": "quantitative", "scale": {"domain": [-10, 70], "reverse": true, "nice": false, "zero": false}, "axis": null},
                          "y": {"field": "f1", "type": "quantitative", "scale": {"domain": [-10, 70], "reverse": true, "nice": false, "zero": false}, "axis": null},
                          "text": {"field": "t"}}},
            {"data": {"name": "lb"}, "transform": [{"filter": "datum.p==5"}],
             "mark": {"type": "text", "align": "left", "baseline": "middle", "font": "Liberation Sans", "fontSize": 9, "dx": 30.5, "dy": 4, "color": "#111111"},
             "encoding": {"x": {"field": "f2", "type": "quantitative", "scale": {"domain": [-10, 70], "reverse": true, "nice": false, "zero": false}, "axis": null},
                          "y": {"field": "f1", "type": "quantitative", "scale": {"domain": [-10, 70], "reverse": true, "nice": false, "zero": false}, "axis": null},
                          "text": {"field": "s"}}}
          ],
          "resolve": {"scale": {"x": "independent", "y": "independent"}}
        }
      ]
    }
  ]
}
